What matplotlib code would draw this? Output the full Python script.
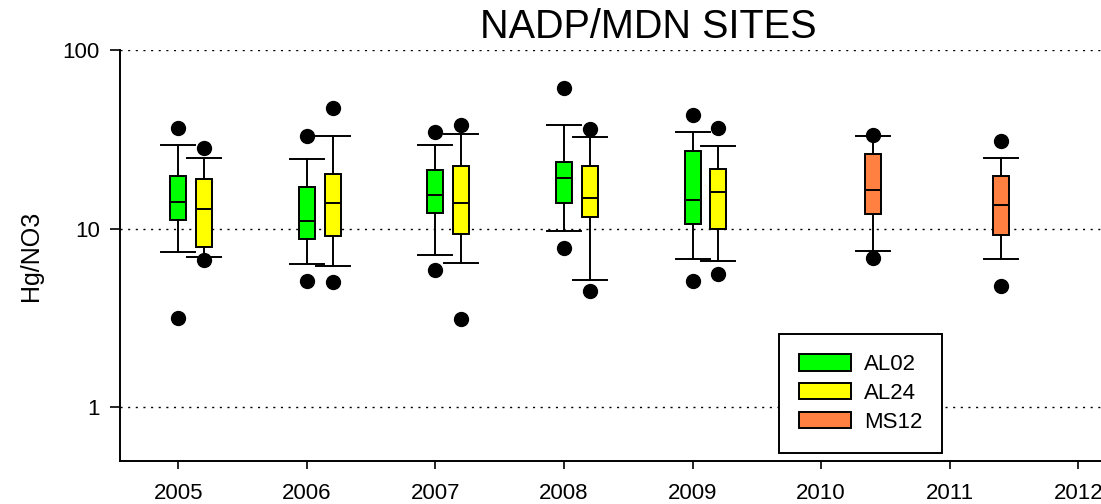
import numpy as np
import matplotlib
matplotlib.use("Agg")
import matplotlib.pyplot as plt
from matplotlib.patches import Patch

plt.rcParams['font.family'] = ['Liberation Sans', 'DejaVu Sans']

# values (Hg/NO3 ratio)
years_al = [2005, 2006, 2007, 2008, 2009]
years_ms = [2010, 2011]

al02_whislo = [7.4, 6.33, 7.11, 9.7, 6.73]
al02_q1 = [11.2, 8.75, 12.3, 13.9, 10.6]
al02_med = [14.1, 11.1, 15.5, 19.1, 14.5]
al02_q3 = [19.7, 17.0, 21.2, 23.7, 27.2]
al02_whishi = [29.5, 24.4, 29.3, 38.2, 34.6]
al02_out_lo = [3.17, 5.11, 5.89, 7.83, 5.09]
al02_out_hi = [36.6, 33.0, 34.8, 60.9, 43.0]

al24_whislo = [6.93, 6.17, 6.39, 5.15, 6.62]
al24_q1 = [7.85, 9.1, 9.29, 11.6, 10.0]
al24_med = [12.9, 14.0, 13.9, 14.9, 16.0]
al24_q3 = [18.9, 20.2, 22.3, 22.3, 21.5]
al24_whishi = [24.9, 32.8, 33.7, 32.5, 29.0]
al24_out_lo = [6.64, 5.0, 3.13, 4.47, 5.57]
al24_out_hi = [28.3, 47.6, 37.9, 35.9, 36.6]

ms12_whislo = [7.46, 6.79]
ms12_q1 = [12.1, 9.26]
ms12_med = [16.5, 13.6]
ms12_q3 = [26.3, 19.6]
ms12_whishi = [33.2, 24.8]
ms12_out_lo = [6.84, 4.77]
ms12_out_hi = [33.4, 30.8]

sites = ["AL02", "AL24", "MS12"]
colors = ["#00FF00", "#FFFF00", "#FF8040"]
offsets = [0.0, 0.2, 0.4]


def make_stats(lo, q1, med, q3, hi, olo, ohi):
    stats = []
    for i in range(len(med)):
        stats.append({"whislo": lo[i], "q1": q1[i], "med": med[i], "q3": q3[i],
                      "whishi": hi[i], "fliers": [olo[i], ohi[i]]})
    return stats


groups = [
    (years_al, make_stats(al02_whislo, al02_q1, al02_med, al02_q3, al02_whishi, al02_out_lo, al02_out_hi)),
    (years_al, make_stats(al24_whislo, al24_q1, al24_med, al24_q3, al24_whishi, al24_out_lo, al24_out_hi)),
    (years_ms, make_stats(ms12_whislo, ms12_q1, ms12_med, ms12_q3, ms12_whishi, ms12_out_lo, ms12_out_hi)),
]

fig = plt.figure(figsize=(11.01, 5.04), dpi=100)
ax = fig.add_axes([120 / 1101, 43 / 504, 1022.6 / 1101, 411 / 504])

lw = 1.4
for (yrs, stats), col, off in zip(groups, colors, offsets):
    pos = np.array(yrs) + off
    ax.bxp(stats, positions=pos, widths=0.125, capwidths=0.265,
           patch_artist=True, manage_ticks=False,
           boxprops=dict(facecolor=col, edgecolor="black", linewidth=lw),
           medianprops=dict(color="black", linewidth=lw),
           whiskerprops=dict(color="black", linewidth=lw),
           capprops=dict(color="black", linewidth=lw),
           flierprops=dict(marker="o", markerfacecolor="black",
                           markeredgecolor="black", markersize=10))

ax.set_yscale("log")
ax.set_ylim(0.5, 100)
ax.set_xlim(2004.547, 2012.5)
ax.set_yticks([1, 10, 100])
ax.set_yticklabels(["1", "10", "100"])
ax.yaxis.set_minor_locator(matplotlib.ticker.NullLocator())
ax.set_xticks(range(2005, 2013))
ax.set_xticklabels([str(y) for y in range(2005, 2013)])

ax.grid(axis="y", color="black", linestyle=(0, (1.5, 4)), linewidth=1.0)
ax.set_axisbelow(True)
for s in ["top", "right"]:
    ax.spines[s].set_visible(False)
for s in ["left", "bottom"]:
    ax.spines[s].set_linewidth(1.4)

ax.tick_params(axis="y", direction="out", length=7, width=1.2, pad=7.5, labelsize=16)
ax.tick_params(axis="x", direction="out", length=5.5, width=1.2, pad=10, labelsize=16)
ax.set_ylabel("Hg/NO3", fontsize=18, labelpad=14)

fig.text(648 / 1101, 1 - 38 / 504, "NADP/MDN SITES", fontsize=28.5,
         ha="center", va="baseline")

handles = [Patch(facecolor=c, edgecolor="black", linewidth=lw) for c in colors]
leg = ax.legend(handles, sites, loc="upper left",
                bbox_to_anchor=(779 / 1101, 1 - 334 / 504),
                bbox_transform=fig.transFigure, borderaxespad=0,
                fontsize=16, frameon=True, fancybox=False, framealpha=1,
                edgecolor="black", handlelength=2.35, handleheight=0.77,
                handletextpad=0.56, labelspacing=0.35, borderpad=0.9)
leg.get_frame().set_linewidth(1.4)

fig.savefig("out.png", dpi=100)
